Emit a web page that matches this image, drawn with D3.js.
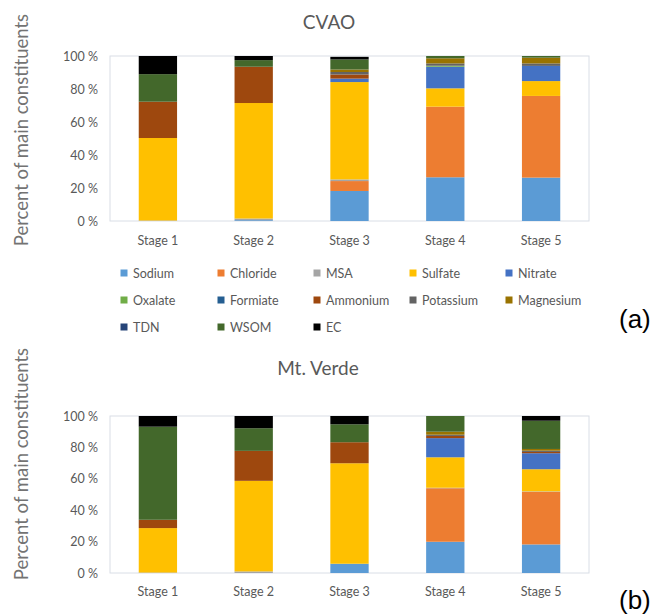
<!DOCTYPE html>
<html><head><meta charset="utf-8">
<script src="https://cdn.jsdelivr.net/npm/d3@7"></script>
<style>body{margin:0;background:#fff}svg{display:block;font-family:Lato,"Open Sans",sans-serif}</style>
</head><body><svg id="c" width="654" height="615"></svg>
<script>
const stages = ["Stage 1","Stage 2","Stage 3","Stage 4","Stage 5"];
const species = ["Sodium","Chloride","MSA","Sulfate","Nitrate","Oxalate","Formiate","Ammonium","Potassium","Magnesium","TDN","WSOM","EC"];
const colors = ["#5B9BD5","#ED7D31","#A5A5A5","#FFC000","#4472C4","#70AD47","#255E91","#9E480E","#636363","#997300","#264478","#43682B","#000000"];
const yTicks = [0,20,40,60,80,100];
// CVAO values (%), per species, stages 1..5
const cvao = {
  Sodium:   [0, 0.5, 18.2, 26.5, 26.3],
  Chloride: [0, 0, 6, 42.8, 49.5],
  MSA:      [0.3, 1, 1, 0, 0],
  Sulfate:  [50, 70, 59, 11.1, 9],
  Nitrate:  [0, 0, 2.1, 13.1, 9.2],
  Oxalate:  [0, 0, 0, 0.6, 0],
  Formiate: [0, 0, 0, 0, 0],
  Ammonium: [22, 22, 2.5, 0, 0],
  Potassium:[0, 0, 1.5, 1.4, 1.5],
  Magnesium:[0, 0, 1.5, 3.1, 3.5],
  TDN:      [0, 0, 0, 0, 0],
  WSOM:     [16.7, 4, 6.1, 1.4, 1],
  EC:       [11, 2.5, 1.6, 0, 0]
};
// Mt. Verde values (%)
const verde = {
  Sodium:   [0, 0, 5.9, 19.9, 18.2],
  Chloride: [0, 0, 0, 34.1, 33.5],
  MSA:      [0.3, 1, 0, 0.3, 0.3],
  Sulfate:  [28.3, 57.7, 64, 19.4, 14.1],
  Nitrate:  [0, 0, 0, 12.2, 10.2],
  Oxalate:  [0, 0, 0, 0, 0],
  Formiate: [0, 0, 0, 0, 0],
  Ammonium: [5.3, 19.1, 13.4, 1.4, 0.8],
  Potassium:[0, 0, 0, 0.8, 0.8],
  Magnesium:[0, 0, 0, 1.9, 1.1],
  TDN:      [0, 0, 0, 0, 0],
  WSOM:     [59.3, 14.4, 11.4, 10.0, 18],
  EC:       [6.8, 7.8, 5.3, 0, 3]
};

const svg = d3.select("#c");
const textCol = "#595959";

function panel(data, title, top, bottom, titleX, titleY, stageY, labelY){
  const x = d3.scaleBand().domain(stages).range([110, 589]).paddingInner(0.6).paddingOuter(0.3);
  const y = d3.scaleLinear().domain([0,100]).range([bottom, top]);
  const g = svg.append("g");
  g.append("rect").attr("x",110).attr("y",top).attr("width",479).attr("height",bottom-top)
    .attr("fill","none").attr("stroke","#D9DEE6").attr("stroke-width",1);
  const rows = stages.map((s,i)=>{const o={stage:s}; species.forEach(k=>o[k]=data[k][i]); return o;});
  const stack = d3.stack().keys(species)(rows);
  stack.forEach((layer,li)=>{
    g.selectAll(null).data(layer).join("rect")
      .attr("x",d=>x(d.data.stage)).attr("width",x.bandwidth())
      .attr("y",d=>y(d[1])).attr("height",d=>Math.max(0,y(d[0])-y(d[1])))
      .attr("fill",colors[li]);
  });
  const ya = d3.axisLeft(y).tickValues(yTicks).tickFormat(d=>d+" %").tickSize(0).tickPadding(12);
  const ag = g.append("g").attr("transform","translate(110,0)").call(ya);
  ag.select(".domain").remove();
  ag.selectAll("text").attr("fill",textCol).style("font-size","12.5px").style("font-family","Lato,sans-serif");
  g.selectAll(null).data(stages).join("text")
    .attr("x",d=>x(d)+x.bandwidth()/2).attr("y",stageY).attr("text-anchor","middle")
    .attr("fill",textCol).style("font-size","12.5px").text(d=>d);
  g.append("text").attr("x",titleX).attr("y",titleY).attr("text-anchor","middle")
    .attr("fill",textCol).style("font-size","19px").text(title);
  g.append("text").attr("transform",`translate(28,${labelY}) rotate(-90)`)
    .attr("text-anchor","middle").attr("fill","#737373").style("font-size","18.5px").text("Percent of main constituents");
}
panel(cvao,"CVAO",56,221,329,29,245,130);
panel(verde,"Mt. Verde",416,573,318,375,596,464);

// legend
const lx = [124,221,317,413,509], ly=[273,300,327];
species.forEach((s,i)=>{
  const cx = lx[i%5], cy = ly[Math.floor(i/5)];
  svg.append("rect").attr("x",cx-3.5).attr("y",cy-3.5).attr("width",7).attr("height",7).attr("fill",colors[i]);
  svg.append("text").attr("x",cx+9).attr("y",cy+4.5).attr("fill",textCol).style("font-size","12.5px").text(s);
});
svg.append("text").attr("x",619).attr("y",328).attr("fill","#000").style("font-size","26px").style("font-family","Arial,'Liberation Sans',sans-serif").text("(a)");
svg.append("text").attr("x",619).attr("y",609).attr("fill","#000").style("font-size","26px").style("font-family","Arial,'Liberation Sans',sans-serif").text("(b)");
</script></body></html>
